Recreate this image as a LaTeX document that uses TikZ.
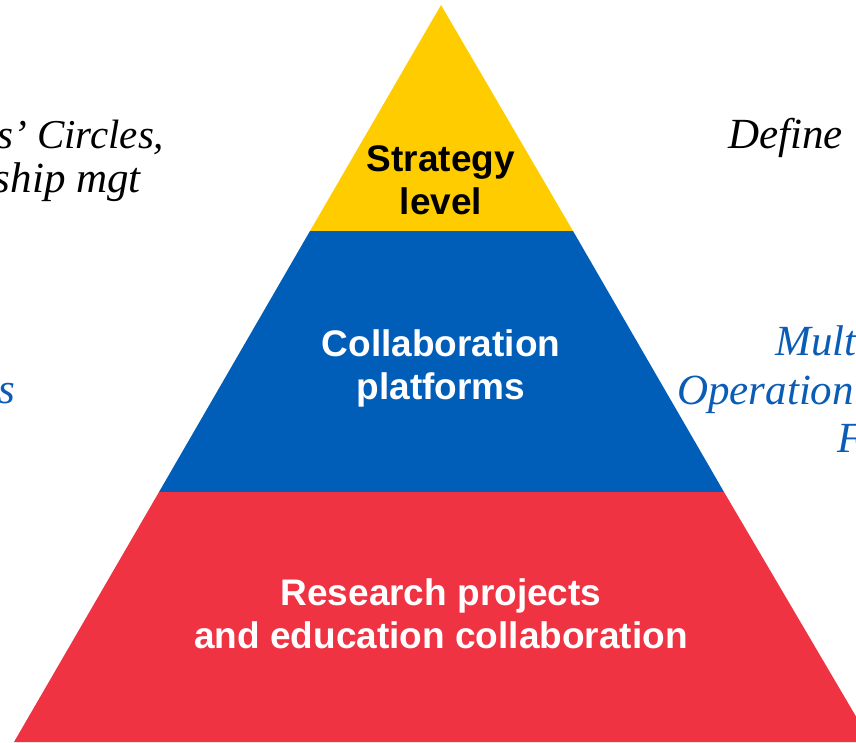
\documentclass[tikz,border=0pt]{standalone}
\usepackage{fontspec}
\setmainfont{Liberation Serif}
\setsansfont{Liberation Sans}
\definecolor{stratyellow}{HTML}{FFCC00}
\definecolor{collabblue}{HTML}{005EB8}
\definecolor{researchred}{HTML}{EF3342}
\definecolor{noteblue}{HTML}{0B5CB6}
\tikzset{
  levelbox/.style={font=\sffamily\bfseries\fontsize{37}{43}\selectfont, align=center, inner sep=0pt},
  note/.style={font=\itshape\fontsize{43}{47}\selectfont, inner sep=0pt}
}
\begin{document}
\begin{tikzpicture}[x=1pt,y=-1pt]
\useasboundingbox (0,0) rectangle (856,742);
\clip (0,0) rectangle (856,742);
% pyramid corners
\coordinate (top) at (441,5);
\coordinate (yl) at (310,231);
\coordinate (yr) at (573,231);
\coordinate (bl) at (159,492);
\coordinate (br) at (724,492);
\coordinate (rl) at (14,742);
\coordinate (rr) at (871,742);
\fill[stratyellow] (top) -- (yl) -- (yr) -- cycle;
\fill[collabblue] (yl) -- (bl) -- (br) -- (yr) -- cycle;
\fill[researchred] (bl) -- (rl) -- (rr) -- (br) -- cycle;

\node[levelbox] (strategy) at (441,180) {Strategy\\level};
\node[levelbox,white] (platforms) at (441,368) {Collaboration\\platforms};
\node[levelbox,white] (research) at (441,614) {Research projects\\and education collaboration};

% side notes, cut by the frame
\node[note,font=\itshape\fontsize{41}{47}\selectfont,anchor=base west] (circles) at (-3,148) {s’ Circles,};
\node[note,anchor=base east] (mgt) at (141,192) {ship mgt};
\node[note,anchor=base west] (define) at (728,148) {Define};
\node[note,noteblue,anchor=base east] (lefts) at (15,403) {s};
\node[note,noteblue,anchor=base west] (mult) at (775,355) {Mult};
\node[note,noteblue,anchor=base west] (operation) at (677,404) {Operation};
\node[note,noteblue,anchor=base west] (f) at (837,452) {F};
\end{tikzpicture}
\end{document}
